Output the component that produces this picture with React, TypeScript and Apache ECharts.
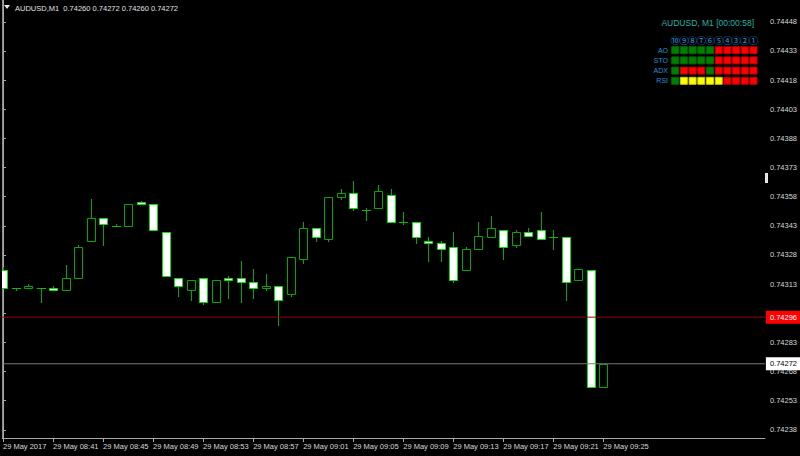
import React, { useEffect, useRef } from 'react';
import * as echarts from 'echarts';

const HEADER_TEXT = 'AUDUSD,M1  0.74260 0.74272 0.74260 0.74272';
const PANEL_TITLE = 'AUDUSD, M1 [00:00:58]';

const TIME_LABELS = [
  '29 May 2017', '29 May 08:41', '29 May 08:45', '29 May 08:49', '29 May 08:53',
  '29 May 08:57', '29 May 09:01', '29 May 09:05', '29 May 09:09', '29 May 09:13',
  '29 May 09:17', '29 May 09:21', '29 May 09:25',
];
const TIME_LABEL_STEP = 4; // one label every 4 one-minute bars

const OPEN = [
  0.74320, 0.74311, 0.74311, 0.74311, 0.74311, 0.74310, 0.74316, 0.74335, 0.74347, 0.74343,
  0.74343, 0.74355, 0.74354, 0.74340, 0.74316, 0.74310, 0.74316, 0.74304, 0.74316, 0.74316,
  0.74314, 0.74311, 0.74312, 0.74308, 0.74326, 0.74342, 0.74336, 0.74358, 0.74360, 0.74351,
  0.74352, 0.74359, 0.74345, 0.74345, 0.74335, 0.74334, 0.74332, 0.74320, 0.74331, 0.74337,
  0.74341, 0.74333, 0.74340, 0.74341, 0.74337, 0.74337, 0.74315, 0.74320, 0.74260,
];
const HIGH = [
  0.74322, 0.74311, 0.74313, 0.74311, 0.74312, 0.74323, 0.74333, 0.74357, 0.74347, 0.74344,
  0.74354, 0.74356, 0.74354, 0.74340, 0.74316, 0.74315, 0.74316, 0.74315, 0.74317, 0.74325,
  0.74321, 0.74318, 0.74312, 0.74327, 0.74345, 0.74342, 0.74358, 0.74362, 0.74366, 0.74352,
  0.74364, 0.74362, 0.74350, 0.74345, 0.74337, 0.74335, 0.74340, 0.74332, 0.74345, 0.74348,
  0.74341, 0.74341, 0.74342, 0.74350, 0.74341, 0.74337, 0.74321, 0.74320, 0.74272,
];
const LOW = [
  0.74311, 0.74310, 0.74311, 0.74304, 0.74310, 0.74310, 0.74316, 0.74335, 0.74333, 0.74343,
  0.74343, 0.74354, 0.74341, 0.74317, 0.74307, 0.74305, 0.74303, 0.74304, 0.74306, 0.74304,
  0.74306, 0.74310, 0.74292, 0.74307, 0.74324, 0.74335, 0.74335, 0.74357, 0.74351, 0.74346,
  0.74352, 0.74345, 0.74344, 0.74334, 0.74325, 0.74325, 0.74314, 0.74320, 0.74331, 0.74337,
  0.74326, 0.74332, 0.74338, 0.74336, 0.74331, 0.74305, 0.74315, 0.74260, 0.74260,
];
const CLOSE = [
  0.74311, 0.74311, 0.74312, 0.74311, 0.74310, 0.74316, 0.74332, 0.74347, 0.74344, 0.74343,
  0.74354, 0.74354, 0.74341, 0.74317, 0.74312, 0.74315, 0.74304, 0.74315, 0.74315, 0.74314,
  0.74311, 0.74312, 0.74305, 0.74327, 0.74342, 0.74337, 0.74358, 0.74360, 0.74352, 0.74351,
  0.74361, 0.74345, 0.74345, 0.74337, 0.74334, 0.74331, 0.74315, 0.74331, 0.74338, 0.74342,
  0.74332, 0.74340, 0.74338, 0.74336, 0.74337, 0.74314, 0.74321, 0.74260, 0.74272,
];

const PRICE_TICKS = [
  0.74238, 0.74253, 0.74268, 0.74283, 0.74298, 0.74313, 0.74328, 0.74343,
  0.74358, 0.74373, 0.74388, 0.74403, 0.74418, 0.74433, 0.74448,
];
const PRICE_MIN = 0.742338;
const PRICE_MAX = 0.744592;
const BAR_MIN = -0.056;
const BAR_MAX = 60.92;

const ASK_PRICE = 0.74296;
const BID_PRICE = 0.74272;

const PERIOD_LABELS = ['⑩', '⑨', '⑧', '⑦', '⑥', '⑤', '④', '③', '②', '①'];
const SIGNAL_NAMES = ['AO', 'STO', 'ADX', 'RSI'];
const AO_SIGNALS = ['G', 'G', 'G', 'G', 'G', 'R', 'R', 'R', 'R', 'R'];
const STO_SIGNALS = ['G', 'G', 'G', 'G', 'G', 'R', 'R', 'R', 'R', 'R'];
const ADX_SIGNALS = ['G', 'R', 'R', 'R', 'G', 'R', 'R', 'R', 'R', 'R'];
const RSI_SIGNALS = ['G', 'Y', 'Y', 'Y', 'Y', 'Y', 'R', 'R', 'R', 'R'];

const FONT = "'Liberation Sans', Arial, sans-serif";

export default function App() {
  const ref = useRef<HTMLDivElement>(null);

  useEffect(() => {
    if (!ref.current) return;
    const chart = echarts.init(ref.current, undefined, { renderer: 'svg' });

    const data = OPEN.map((o, i) => [i, o, CLOSE[i], LOW[i], HIGH[i]]);
    const labelValues = TIME_LABELS.map((_, i) => i * TIME_LABEL_STEP);

    const fillOf: Record<string, [string, string]> = {
      G: ['#008000', '#006400'],
      R: ['#ff0000', '#b80000'],
      Y: ['#ffff00', '#c8c800'],
    };
    const rows = [AO_SIGNALS, STO_SIGNALS, ADX_SIGNALS, RSI_SIGNALS];
    const panel: any[] = [];
    panel.push({
      type: 'text', right: 800 - 754, top: 18,
      style: { text: PANEL_TITLE, fill: '#20b2aa', font: `8.5px ${FONT}` },
    });
    PERIOD_LABELS.forEach((lab, j) => {
      panel.push({
        type: 'text', x: 675.2 + 8.7 * j, y: 40,
        style: { text: lab, fill: '#2a8fd8', font: "9.5px 'Noto Sans CJK SC', sans-serif", align: 'center', verticalAlign: 'middle' },
      });
    });
    rows.forEach((row, r) => {
      const y = 46.7 + 10.2 * r;
      panel.push({
        type: 'text', x: 668, y: y + 3.5,
        style: { text: SIGNAL_NAMES[r], fill: '#2a8fd8', font: `7px ${FONT}`, align: 'right', verticalAlign: 'middle' },
      });
      row.forEach((s, j) => {
        panel.push({
          type: 'rect',
          shape: { x: 671.7 + 8.7 * j, y, width: 7, height: 7 },
          style: { fill: fillOf[s][0], stroke: fillOf[s][1], lineWidth: 1 },
        });
      });
    });

    const levelSeries = (price: string | number, lineColor: string, bg: string, fg: string) => ({
      type: 'line',
      silent: true,
      showSymbol: false,
      symbol: 'none',
      clip: false,
      z: 3,
      data: [[BAR_MIN, price], [BAR_MAX, price]],
      lineStyle: { color: lineColor, width: 1 },
      endLabel: {
        show: true,
        distance: 1,
        formatter: () => Number(price).toFixed(5),
        backgroundColor: bg,
        color: fg,
        fontFamily: FONT,
        fontSize: 7.5,
        padding: [3, 4, 2, 4],
      },
    });

    const option: any = {
      animation: false,
      backgroundColor: '#000000',
      grid: { left: 2, right: 34, top: 0, bottom: 18, containLabel: false },
      xAxis: {
        type: 'value',
        min: BAR_MIN,
        max: BAR_MAX,
        axisLine: { show: true, lineStyle: { color: '#a8a8a8', width: 1 } },
        axisTick: { show: true, length: 4, lineStyle: { color: '#a8a8a8' }, customValues: labelValues },
        axisLabel: {
          customValues: labelValues,
          formatter: (v: number) => TIME_LABELS[Math.round(v / TIME_LABEL_STEP)] ?? '',
          align: 'left',
          color: '#d8d8d8',
          fontFamily: FONT,
          fontSize: 7.5,
          margin: 4,
          showMinLabel: true,
          showMaxLabel: true,
          hideOverlap: false,
        },
        splitLine: { show: false },
      },
      yAxis: [
        {
          type: 'value',
          position: 'right',
          min: PRICE_MIN,
          max: PRICE_MAX,
          axisLine: { show: true, lineStyle: { color: '#a8a8a8', width: 1 } },
          axisTick: { show: true, length: 3, inside: false, lineStyle: { color: '#a8a8a8' }, customValues: PRICE_TICKS },
          axisLabel: {
            customValues: PRICE_TICKS,
            formatter: (v: number) => v.toFixed(5),
            color: '#d8d8d8',
            fontFamily: FONT,
            fontSize: 7.5,
            margin: 5,
            showMinLabel: true,
            showMaxLabel: true,
          },
          splitLine: { show: false },
        },
        {
          type: 'value',
          position: 'left',
          min: PRICE_MIN,
          max: PRICE_MAX,
          axisLine: { show: true, onZero: false, lineStyle: { color: '#8a8a8a', width: 1 } },
          axisTick: { show: false },
          axisLabel: { show: false },
          splitLine: { show: false },
        },
      ],
      series: [
        {
          type: 'custom',
          clip: true,
          z: 2,
          data,
          encode: { x: 0, y: [1, 2, 3, 4] },
          renderItem: (params: any, api: any) => {
            const idx = api.value(0);
            const o = api.value(1);
            const c = api.value(2);
            const l = api.value(3);
            const h = api.value(4);
            const pO = api.coord([idx, o]);
            const pC = api.coord([idx, c]);
            const pL = api.coord([idx, l]);
            const pH = api.coord([idx, h]);
            const cx = Math.round(pO[0]);
            const wx = cx + 0.5;
            const children: any[] = [];
            const wickColor = '#00a800';
            if (Math.round(pH[1]) !== Math.round(pL[1])) {
              children.push({
                type: 'line',
                shape: { x1: wx, y1: Math.round(pH[1]), x2: wx, y2: Math.round(pL[1]) + 1 },
                style: { stroke: wickColor, lineWidth: 1 },
              });
            }
            const yTop = Math.round(Math.min(pO[1], pC[1]));
            const yBot = Math.round(Math.max(pO[1], pC[1]));
            if (yBot - yTop < 1) {
              children.push({
                type: 'line',
                shape: { x1: cx - 4, y1: yTop + 0.5, x2: cx + 5, y2: yTop + 0.5 },
                style: { stroke: '#00c000', lineWidth: 1 },
              });
            } else {
              const bull = c > o;
              children.push({
                type: 'rect',
                shape: { x: cx - 3.5, y: yTop + 0.5, width: 8, height: yBot - yTop },
                style: {
                  fill: bull ? '#000000' : '#ffffff',
                  stroke: bull ? '#00a800' : '#00e400',
                  lineWidth: 1,
                },
              });
            }
            return { type: 'group', children };
          },
        },
        levelSeries(ASK_PRICE, '#a00000', '#ff0000', '#ffffff'),
        levelSeries(BID_PRICE, '#7a7a7a', '#ffffff', '#000000'),
      ],
      graphic: [
        {
          type: 'polygon',
          shape: { points: [[4, 5], [10, 5], [7, 9]] },
          style: { fill: '#e8e8e8' },
        },
        {
          type: 'text', x: 15, y: 8,
          style: { text: HEADER_TEXT, fill: '#e0e0e0', font: `7.5px ${FONT}`, verticalAlign: 'middle' },
        },
        {
          type: 'rect',
          shape: { x: 765, y: 173, width: 3, height: 10 },
          style: { fill: '#e6e6e6' },
        },
        ...panel,
      ],
    };

    chart.setOption(option);
    return () => chart.dispose();
  }, []);

  return (
    <div
      ref={ref}
      style={{ position: 'fixed', left: 0, top: 0, width: 800, height: 456, background: '#000' }}
    />
  );
}
